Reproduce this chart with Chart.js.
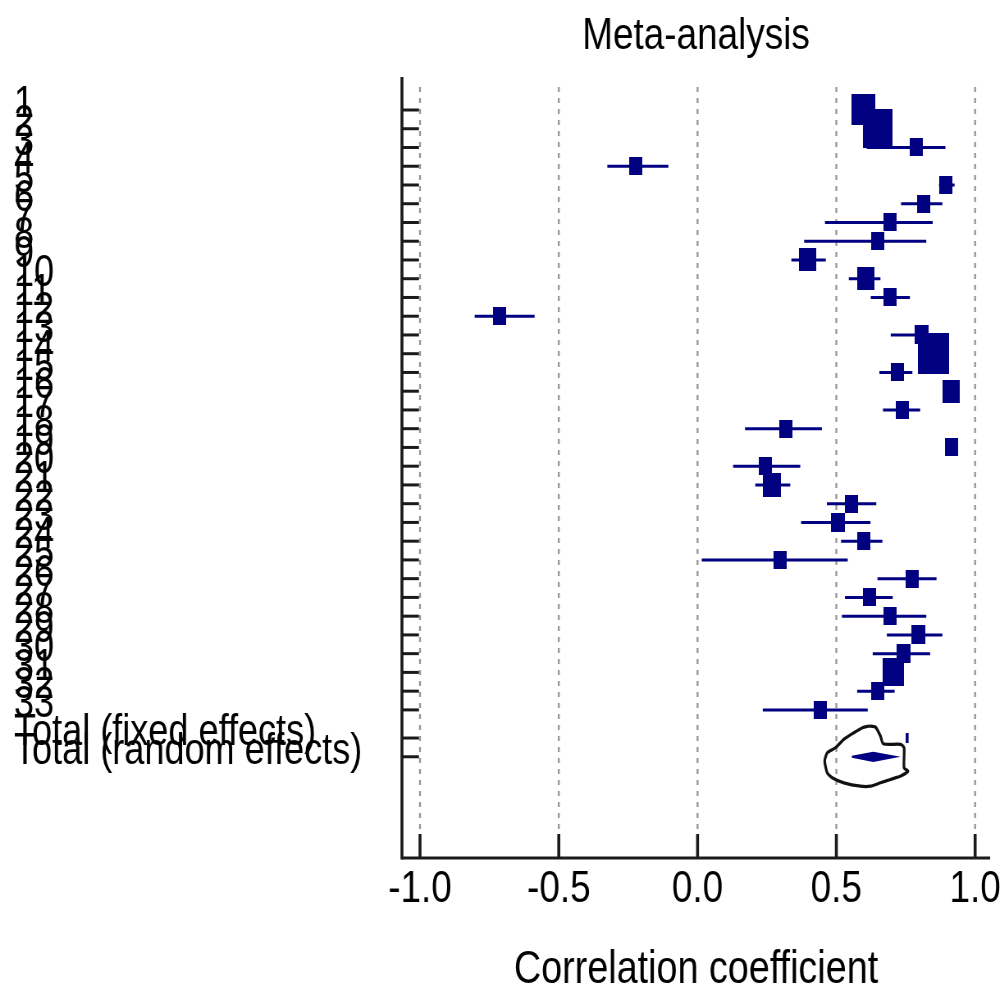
<!DOCTYPE html>
<html lang="en">
<head>
<meta charset="UTF-8">
<title>Meta-analysis</title>
<script src="https://cdn.jsdelivr.net/npm/chart.js"></script>
<style>
  html, body { margin: 0; padding: 0; background: #fff; overflow: hidden; }
  /* the source plot uses a condensed face; draw wide and squeeze horizontally */
  #wrap { width: 1224px; height: 992px; transform: scaleX(0.8203); transform-origin: 0 0; }
</style>
</head>
<body>
<div id="wrap"><canvas id="forest"></canvas></div>
<script>
// study labels and row positions (totals sit half a row lower)
const studyLabels = ["1","2","3","4","5","6","7","8","9","10","11","12","13","14","15","16","17",
  "18","19","20","21","22","23","24","25","26","27","28","29","30","31","32","33"];
const totalLabels = ["Total (fixed effects)", "Total (random effects)"];
const totalRows = [34.5, 35.5];

// correlation coefficient and 95% CI per study
const estimate = [0.598, 0.649, 0.787, -0.223, 0.895, 0.816, 0.692, 0.648, 0.396, 0.607, 0.692, -0.714,
  0.807, 0.849, 0.719, 0.915, 0.737, 0.318, 0.915, 0.245, 0.267, 0.554, 0.505, 0.598, 0.296, 0.772,
  0.620, 0.692, 0.794, 0.741, 0.706, 0.648, 0.442];
const lower = [0.570, 0.610, 0.609, -0.325, 0.870, 0.733, 0.459, 0.384, 0.338, 0.545, 0.624, -0.803,
  0.696, 0.810, 0.655, 0.900, 0.668, 0.171, 0.905, 0.128, 0.208, 0.466, 0.373, 0.517, 0.015, 0.648,
  0.531, 0.520, 0.682, 0.631, 0.680, 0.575, 0.235];
const upper = [0.625, 0.690, 0.893, -0.105, 0.926, 0.882, 0.847, 0.824, 0.462, 0.659, 0.765, -0.587,
  0.870, 0.885, 0.774, 0.930, 0.802, 0.448, 0.925, 0.370, 0.334, 0.644, 0.623, 0.666, 0.541, 0.861,
  0.703, 0.824, 0.882, 0.838, 0.730, 0.710, 0.613];
// relative study weight (marker size)
const weight = [3.13, 4.85, 1, 1, 1, 1, 1, 1, 1.65, 1.65, 1, 1, 1.1, 5.49, 1, 1.65, 1, 1, 1, 1, 1.8,
  1, 1.1, 1, 1, 1, 1, 1, 1.1, 1.1, 2.46, 1, 1];

// pooled estimates
const fixedEst = 0.755;
const randomEst = 0.633, randomLo = 0.556, randomHi = 0.712;

// hand-drawn loop around the pooled result (x = r, y = row)
const loopX = [0.617, 0.641, 0.659, 0.669, 0.732, 0.744, 0.744, 0.758, 0.732, 0.695, 0.659, 0.623,
  0.587, 0.527, 0.485, 0.467, 0.458, 0.467, 0.497, 0.527, 0.563, 0.594, 0.617];
const loopY = [33.86, 33.92, 34.4, 34.81, 34.84, 35.02, 36.09, 36.27, 36.53, 36.71, 36.89, 37.07,
  37.07, 36.89, 36.62, 36.35, 35.73, 35.29, 35.02, 34.57, 34.22, 33.95, 33.86];

const xTicks = [-1.0, -0.5, 0.0, 0.5, 1.0];

const SX = 0.8203;   // horizontal squeeze applied by the css transform
const FONT = "'Liberation Sans', Arial, sans-serif";
const NAVY = '#000080';

const rows = studyLabels.map((l, i) => i + 1);
const yLabels = studyLabels.concat(totalLabels);
const yPos = rows.concat(totalRows);

// study markers: slightly tall boxes, like the source
function box(w) {
  const side = 13.4 * Math.sqrt(w);
  const c = document.createElement('canvas');
  c.width = Math.round(side / SX);
  c.height = Math.round(side * 1.32);
  const g = c.getContext('2d');
  g.fillStyle = NAVY;
  g.fillRect(0, 0, c.width, c.height);
  return c;
}
const boxes = weight.map(box);

const ciPoints = [];
rows.forEach((r, i) => {
  ciPoints.push({x: lower[i], y: r}, {x: upper[i], y: r}, {x: null, y: null});
});

const frame = {
  id: 'frame',
  beforeDatasetsDraw(chart) {
    const {ctx, chartArea: a, scales: {x, y}} = chart;
    const seg = (x1, y1, x2, y2) => { ctx.beginPath(); ctx.moveTo(x1, y1); ctx.lineTo(x2, y2); ctx.stroke(); };
    ctx.save();
    ctx.strokeStyle = '#999';
    ctx.lineWidth = 2.4;
    ctx.setLineDash([5, 6]);
    xTicks.forEach(v => { const px = x.getPixelForValue(v); seg(px, a.top + 10, px, a.bottom - 24); });
    ctx.setLineDash([]);
    ctx.strokeStyle = '#1a1a1a';
    ctx.lineWidth = 3.6;
    seg(a.left, a.top, a.left, a.bottom + 1.5);
    xTicks.forEach(v => { const px = x.getPixelForValue(v); seg(px, a.bottom, px, a.bottom - 24); });
    ctx.lineWidth = 3;
    seg(a.left, a.bottom, a.right, a.bottom);
    yPos.forEach(v => { const py = y.getPixelForValue(v); seg(a.left, py, a.left + 17 / SX, py); });
    ctx.restore();
  }
};

new Chart(document.getElementById('forest'), {
  type: 'scatter',
  data: {
    datasets: [
      {
        label: 'Studies',
        data: rows.map((r, i) => ({x: estimate[i], y: r})),
        pointStyle: ctx => boxes[ctx.dataIndex],
        order: 0
      },
      {
        label: 'CI',
        data: ciPoints,
        showLine: true,
        spanGaps: false,
        borderColor: NAVY,
        borderWidth: 3,
        pointRadius: 0,
        order: 1
      },
      {
        label: 'Fixed',
        data: [{x: fixedEst, y: totalRows[0]}],
        pointStyle: 'line',
        rotation: 90,
        radius: 5,
        borderColor: NAVY,
        borderWidth: 3.6,
        order: 2
      },
      {
        label: 'Random',
        data: [
          {x: randomLo, y: totalRows[1]},
          {x: randomEst, y: totalRows[1] - 0.22},
          {x: randomHi, y: totalRows[1]},
          {x: randomEst, y: totalRows[1] + 0.22},
          {x: randomLo, y: totalRows[1]}
        ],
        showLine: true,
        fill: 'shape',
        backgroundColor: NAVY,
        borderColor: NAVY,
        borderWidth: 2,
        pointRadius: 0,
        order: 3
      },
      {
        label: 'Loop',
        data: loopX.map((v, i) => ({x: v, y: loopY[i]})),
        showLine: true,
        borderColor: '#111',
        borderWidth: 3.2,
        tension: 0.2,
        pointRadius: 0,
        order: 4
      }
    ]
  },
  options: {
    responsive: true,
    maintainAspectRatio: false,
    animation: false,
    events: [],
    layout: { padding: { left: 17, right: 17, top: 0, bottom: 0 } },
    plugins: {
      legend: { display: false },
      tooltip: { enabled: false },
      title: {
        display: true,
        text: 'Meta-analysis',
        fullSize: false,
        color: '#000',
        font: { family: FONT, size: 45, weight: 'normal', lineHeight: 1 },
        padding: { top: 14, bottom: 18 }
      }
    },
    scales: {
      x: {
        type: 'linear',
        min: -1.065,
        max: 1.054,
        afterBuildTicks: s => { s.ticks = xTicks.map(v => ({value: v})); },
        afterFit: s => { s.height = 134; s.paddingLeft = 0; s.paddingRight = 0; },
        grid: { display: false, drawTicks: false },
        border: { display: false },
        ticks: {
          color: '#000',
          font: { family: FONT, size: 45, lineHeight: 1 },
          padding: 9,
          maxRotation: 0,
          autoSkip: false,
          callback: v => v.toFixed(1)
        },
        title: {
          display: true,
          text: 'Correlation coefficient',
          color: '#000',
          font: { family: FONT, size: 46, lineHeight: 1 },
          padding: { top: 8, bottom: -1 }
        }
      },
      y: {
        type: 'linear',
        reverse: true,
        min: -0.76,
        max: 40.9,
        afterBuildTicks: s => { s.ticks = yPos.map(v => ({value: v})); },
        afterFit: s => { s.width = 473; },
        grid: { display: false, drawTicks: false },
        border: { display: false },
        ticks: {
          color: '#000',
          font: { family: FONT, size: 44, lineHeight: 1 },
          crossAlign: 'far',
          labelOffset: -5,
          autoSkip: false,
          callback: (v, i) => yLabels[i]
        }
      }
    }
  },
  plugins: [frame]
});
</script>
</body>
</html>
